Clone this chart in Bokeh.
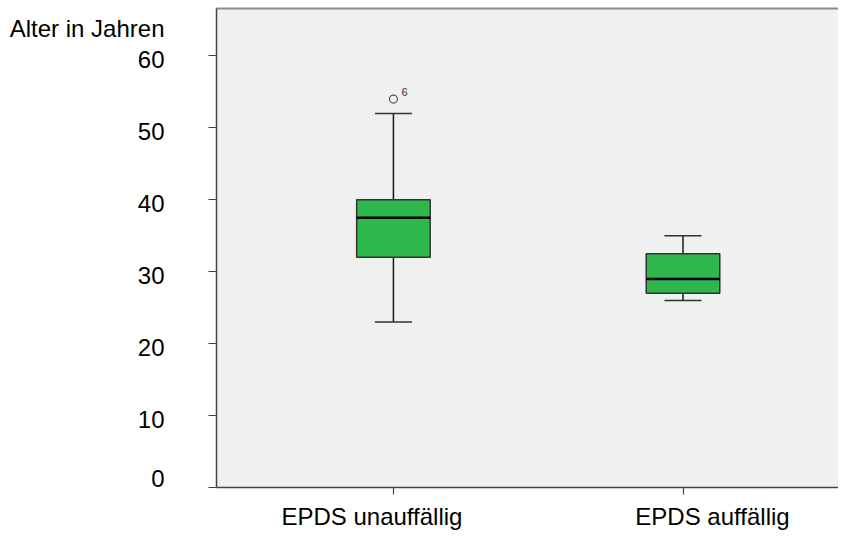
from bokeh.plotting import figure
from bokeh.models import Range1d, FixedTicker, LinearAxis, ColumnDataSource
from bokeh.core.properties import value
from bokeh.embed import file_html
from bokeh.resources import INLINE

# ---- data ----
categories = ["EPDS unauffällig", "EPDS auffällig"]
xpos = [1, 2]
lower_whisker = [23, 26]
q1 = [32, 27]
median = [37.5, 29]
q3 = [40, 32.5]
upper_whisker = [52, 35]
outlier_x = [1]
outlier_y = [54]
outlier_label = ["6"]
y_ticks = [0, 10, 20, 30, 40, 50, 60]
y_title = "Alter in Jahren"
y_title_at = 63.8

FONT = "Liberation Sans"
FS = "24px"
BOX_HALF = 0.127
CAP_HALF = 0.064

X0, X1 = 0.389, 2.537
Y0, Y1 = 0.0, 66.6
W, H = 838, 532
BL, BT, BB = 216, 8, 44
px_x = (W - BL) / (X1 - X0)
px_y = (H - BT - BB) / (Y1 - Y0)

src = ColumnDataSource(dict(
    x=xpos, lw=lower_whisker, q1=q1, med=median, q3=q3, uw=upper_whisker,
    bl=[v - BOX_HALF for v in xpos], br=[v + BOX_HALF for v in xpos],
    cl=[v - CAP_HALF for v in xpos], cr=[v + CAP_HALF for v in xpos],
))

p = figure(width=W, height=H, output_backend="svg", toolbar_location=None,
           x_range=Range1d(X0, X1), y_range=Range1d(Y0, Y1),
           min_border_left=BL, min_border_right=0, min_border_top=BT, min_border_bottom=BB)
p.background_fill_color = "#f0f0f0"
p.border_fill_color = "white"
p.outline_line_color = None
p.grid.visible = False

# tick-mark axes (no label text)
for ax, ticks in ((p.yaxis[0], y_ticks), (p.xaxis[0], xpos)):
    ax.ticker = FixedTicker(ticks=ticks)
    ax.major_label_overrides = {t: "" for t in ticks}
    ax.major_label_text_font_size = "1px"
    ax.major_tick_in = 0
    ax.minor_tick_line_color = None
    ax.major_label_standoff = 0
    ax.axis_line_color = "#444444"
    ax.axis_line_width = 1.5
    ax.major_tick_line_color = "#444444"
    ax.major_tick_line_width = 1.2
p.yaxis.major_tick_out = 8
p.xaxis.major_tick_out = 7

# top border line
top = LinearAxis(ticker=FixedTicker(ticks=[]), axis_line_color="#8c8c8c", axis_line_width=2,
                 major_tick_line_color=None, minor_tick_line_color=None,
                 major_tick_out=0, major_tick_in=0, major_label_standoff=0)
p.add_layout(top, "above")

# label axes (text only), labels nudged as in the original layout
y_shift_px = {t: (9 if t == 0 else -4) for t in y_ticks}
y_label_pos = [t + y_shift_px[t] / px_y for t in y_ticks] + [y_title_at]
y_label_txt = [str(t) for t in y_ticks] + [y_title]
ylab = LinearAxis(ticker=FixedTicker(ticks=y_label_pos),
                  major_label_overrides=dict(zip(y_label_pos, y_label_txt)),
                  axis_line_color=None, major_tick_line_color=None, minor_tick_line_color=None,
                  major_tick_out=0, major_tick_in=0, major_label_standoff=44,
                  major_label_text_font=FONT, major_label_text_font_size=FS,
                  major_label_text_color="#000000")
p.add_layout(ylab, "left")

x_shift_px = [-21.5, 29.5]
x_label_pos = [xc + d / px_x for xc, d in zip(xpos, x_shift_px)]
xlab = LinearAxis(ticker=FixedTicker(ticks=x_label_pos),
                  major_label_overrides=dict(zip(x_label_pos, categories)),
                  axis_line_color=None, major_tick_line_color=None, minor_tick_line_color=None,
                  major_tick_out=0, major_tick_in=0, major_label_standoff=8,
                  major_label_text_font=FONT, major_label_text_font_size=FS,
                  major_label_text_color="#000000")
p.add_layout(xlab, "below")

# whiskers
p.segment(x0="x", y0="q3", x1="x", y1="uw", source=src, line_color="#1a1a1a", line_width=1.5)
p.segment(x0="x", y0="lw", x1="x", y1="q1", source=src, line_color="#1a1a1a", line_width=1.5)
p.segment(x0="cl", y0="uw", x1="cr", y1="uw", source=src, line_color="#333333", line_width=1.5)
p.segment(x0="cl", y0="lw", x1="cr", y1="lw", source=src, line_color="#333333", line_width=1.5)
# boxes
p.quad(left="bl", right="br", bottom="q1", top="q3", source=src,
       fill_color="#2eb84b", line_color="#333333", line_width=1.5)
p.segment(x0="bl", y0="med", x1="br", y1="med", source=src, line_color="#000000", line_width=2.5)

# outlier
p.scatter(outlier_x, outlier_y, marker="circle", size=8, fill_color="#f0f0f0",
          line_color="#555555", line_width=1.2)
p.text(outlier_x, outlier_y, text=outlier_label, x_offset=8, y_offset=-7,
       text_font=value(FONT), text_font_size="11px", text_color="#333333",
       text_baseline="middle", text_align="left")

open("out.html", "w").write(file_html(p, INLINE))
